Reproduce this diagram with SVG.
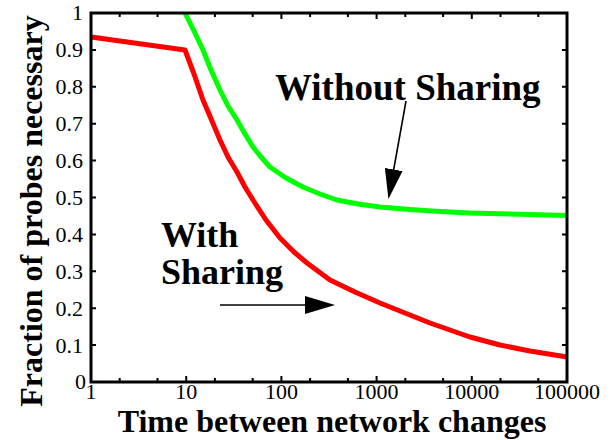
<svg xmlns="http://www.w3.org/2000/svg" width="615" height="440" viewBox="0 0 615 440">
<defs>
<style>
.tick{stroke:#000;stroke-width:2}
.curve{fill:none;stroke-width:5;stroke-linejoin:round;stroke-linecap:butt}
.arrow{stroke:#000;stroke-width:1.6;fill:none;marker-end:url(#head)}
</style>
<marker id="head" markerUnits="userSpaceOnUse" markerWidth="30" markerHeight="18" refX="20" refY="9" orient="auto">
<path d="M0,0 L30,9 L0,18 Z" fill="#000"/>
</marker>
</defs>
<rect width="615" height="440" fill="#fff"/>

<g id="ticks">
<path class="tick" d="M91,345.1h5M91,308.2h5M91,271.3h5M91,234.4h5M91,197.5h5M91,160.6h5M91,123.7h5M91,86.8h5M91,49.9h5
M567,345.1h-5M567,308.2h-5M567,271.3h-5M567,234.4h-5M567,197.5h-5M567,160.6h-5M567,123.7h-5M567,86.8h-5M567,49.9h-5"/>
<path class="tick" d="M119.7,382v-4M157.5,382v-4M186.2,382v-6M214.9,382v-4M252.7,382v-4M281.4,382v-6M310.1,382v-4M347.9,382v-4M376.6,382v-6M405.3,382v-4M443.1,382v-4M471.8,382v-6M500.5,382v-4M538.3,382v-4
M119.7,13v4M157.5,13v4M186.2,13v6M214.9,13v4M252.7,13v4M281.4,13v6M310.1,13v4M347.9,13v4M376.6,13v6M405.3,13v4M443.1,13v4M471.8,13v6M500.5,13v4M538.3,13v4"/>
</g>

<g id="tick-labels">
<text font-family="Liberation Serif" font-size="22" text-anchor="end" x="86" y="389">0</text>
<text font-family="Liberation Serif" font-size="22" text-anchor="end" x="83" y="352.6">0.1</text>
<text font-family="Liberation Serif" font-size="22" text-anchor="end" x="83" y="315.7">0.2</text>
<text font-family="Liberation Serif" font-size="22" text-anchor="end" x="83" y="278.8">0.3</text>
<text font-family="Liberation Serif" font-size="22" text-anchor="end" x="83" y="241.9">0.4</text>
<text font-family="Liberation Serif" font-size="22" text-anchor="end" x="83" y="205">0.5</text>
<text font-family="Liberation Serif" font-size="22" text-anchor="end" x="83" y="168.1">0.6</text>
<text font-family="Liberation Serif" font-size="22" text-anchor="end" x="83" y="131.2">0.7</text>
<text font-family="Liberation Serif" font-size="22" text-anchor="end" x="83" y="94.3">0.8</text>
<text font-family="Liberation Serif" font-size="22" text-anchor="end" x="83" y="57.4">0.9</text>
<text font-family="Liberation Serif" font-size="22" text-anchor="end" x="83" y="20">1</text>
<text font-family="Liberation Serif" font-size="22" text-anchor="middle" x="91" y="399">1</text>
<text font-family="Liberation Serif" font-size="22" text-anchor="middle" x="186.2" y="399">10</text>
<text font-family="Liberation Serif" font-size="22" text-anchor="middle" x="281.4" y="399">100</text>
<text font-family="Liberation Serif" font-size="22" text-anchor="middle" x="376.6" y="399">1000</text>
<text font-family="Liberation Serif" font-size="22" text-anchor="middle" x="471.8" y="399">10000</text>
<text font-family="Liberation Serif" font-size="22" text-anchor="middle" x="567" y="399">100000</text>
</g>

<g id="axis-titles">
<text font-family="Liberation Serif" font-size="32" font-weight="bold" x="332" y="432" text-anchor="middle">Time between network changes</text>
<text font-family="Liberation Serif" font-size="32" font-weight="bold" transform="translate(42,211) rotate(-90)" text-anchor="middle">Fraction of probes necessary</text>
</g>

<g id="curves">
<polyline id="with-sharing" class="curve" stroke="#ff0000" points="91,37 185,50 194,74 203,100 212,121 220,140 228,157 237,172 245,187 253,200 266,220 280,238 294,252 307,263 330,280 355,292 380,303 405,313 430,323 450,330 470,337 500,345 530,351 567,357"/>
<polyline id="without-sharing" class="curve" stroke="#00ff00" points="185,13 194,31 203,50 211,70 220,90 228,106 237,120 245,134 253,147 261,157 270,167 286,178 303,187 320,194 337,200 358,204 380,207 410,209.5 440,211.5 470,213 520,214.3 567,215.5"/>
</g>

<g id="frame">
<rect x="91" y="13" width="476" height="369" fill="none" stroke="#000" stroke-width="3"/>
</g>

<g id="annotations">
<text font-family="Liberation Serif" font-size="37" font-weight="bold" x="275" y="100">Without Sharing</text>
<text font-family="Liberation Serif" font-size="36" font-weight="bold" x="161" y="247">With</text>
<text font-family="Liberation Serif" font-size="36" font-weight="bold" x="161" y="284">Sharing</text>
</g>

<g id="connectors">
<line class="arrow" x1="406" y1="101" x2="390.2" y2="189.2"/>
<line class="arrow" x1="220" y1="305" x2="325" y2="305"/>
</g>
</svg>
